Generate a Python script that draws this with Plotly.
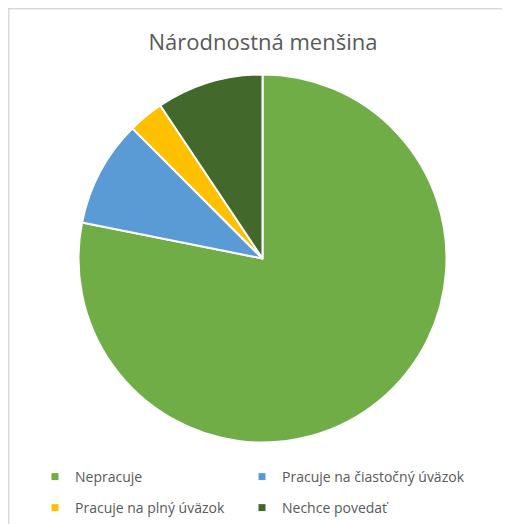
import plotly.graph_objects as go

categories = ["Nepracuje", "Pracuje na čiastočný úväzok", "Pracuje na plný úväzok", "Nechce povedať"]
values = [25, 3, 1, 3]
colors = ["#70AD47", "#5B9BD5", "#FFC000", "#43682B"]
title_text = "Národnostná menšina"

W, H = 510, 524
OFF = 8  # default page body margin in the written html
FONT = "Open Sans, Noto Sans, sans-serif"


def px(x):
    return (x - OFF) / W


def py(y):
    return 1 - (y - OFF) / H


cx, cy, r = 262.5, 258.5, 184
# legend grid (page pixels): two columns, two rows
leg_x = [35, 242, 35, 242]
leg_y = [477, 477, 508, 508]
leg_names = ["legend", "legend2", "legend3", "legend4"]

fig = go.Figure()
fig.add_trace(go.Pie(
    labels=categories, values=values, sort=False, direction="clockwise", rotation=0,
    marker=dict(colors=colors, line=dict(color="white", width=2)),
    textinfo="none", hoverinfo="label+value+percent", showlegend=False,
    domain=dict(x=[px(cx - r), px(cx + r)], y=[py(cy + r), py(cy - r)]),
))
for c, col, ln in zip(categories, colors, leg_names):
    fig.add_trace(go.Scatter(x=[None], y=[None], mode="markers", name=c, legend=ln,
                             marker=dict(symbol="square", size=7, color=col)))

leg_layout = {}
for ln, lx, ly in zip(leg_names, leg_x, leg_y):
    leg_layout[ln] = dict(orientation="h", xanchor="left", yanchor="middle",
                          x=px(lx), y=py(ly), itemwidth=30,
                          font=dict(family=FONT, size=14, color="#595959"),
                          bgcolor="rgba(0,0,0,0)")

fig.update_layout(
    width=W, height=H, margin=dict(l=0, r=0, t=0, b=0),
    paper_bgcolor="white", plot_bgcolor="white",
    xaxis=dict(visible=False), yaxis=dict(visible=False),
    title=dict(text=title_text, x=px(263), xanchor="center", y=py(42), yanchor="middle",
               font=dict(family=FONT, size=22, color="#595959")),
    shapes=[dict(type="rect", xref="paper", yref="paper", x0=px(8.7), x1=1.05, y0=-0.05, y1=py(8.7),
                 line=dict(color="#D9D9D9", width=1.5), fillcolor="rgba(0,0,0,0)")],
    **leg_layout,
)
fig.write_html("out.html")
